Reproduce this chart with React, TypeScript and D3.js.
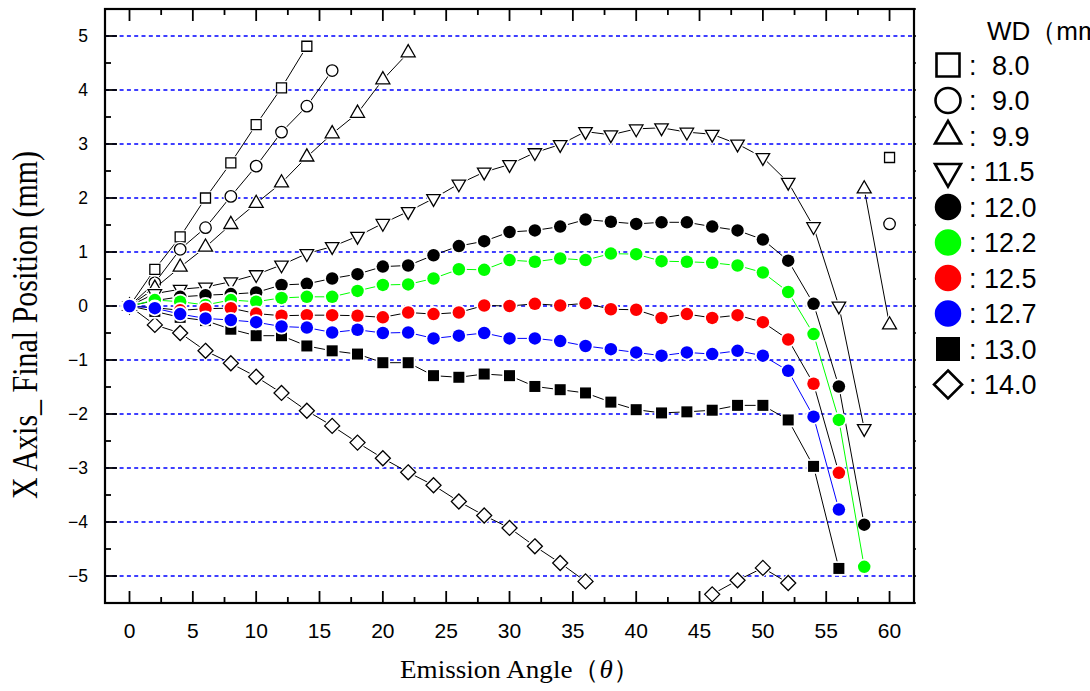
import React from 'react';
import * as d3 from 'd3';

// ---------- data ----------
const angles = [0, 2, 4, 6, 8, 10, 12, 14, 16, 18, 20, 22, 24, 26, 28, 30, 32, 34, 36, 38, 40, 42, 44, 46, 48, 50, 52, 54, 56, 58, 60];
const xTickValues = [0, 5, 10, 15, 20, 25, 30, 35, 40, 45, 50, 55, 60];
const yTickValues = [-5, -4, -3, -2, -1, 0, 1, 2, 3, 4, 5];
const yTickLabels = ['\u22125', '\u22124', '\u22123', '\u22122', '\u22121', '0', '1', '2', '3', '4', '5'];

const wd080 = [0, 0.68, 1.28, 2.0, 2.65, 3.36, 4.04, 4.81, null, null, null, null, null, null, null, null, null, null, null, null, null, null, null, null, null, null, null, null, null, null, 2.75];
const wd090 = [0, 0.43, 1.05, 1.45, 2.03, 2.59, 3.22, 3.70, 4.36, null, null, null, null, null, null, null, null, null, null, null, null, null, null, null, null, null, null, null, null, null, 1.52];
const wd099 = [0, 0.33, 0.72, 1.09, 1.51, 1.90, 2.28, 2.76, 3.19, 3.57, 4.19, 4.69, null, null, null, null, null, null, null, null, null, null, null, null, null, null, null, null, null, 2.17, -0.35];
const wd115 = [0, 0.23, 0.31, 0.35, 0.45, 0.58, 0.76, 0.97, 1.10, 1.29, 1.53, 1.75, 1.99, 2.26, 2.48, 2.62, 2.84, 2.99, 3.23, 3.17, 3.28, 3.30, 3.22, 3.18, 3.00, 2.75, 2.29, 1.47, 0.0, -2.27, null];
const wd120 = [0, 0.10, 0.17, 0.20, 0.22, 0.25, 0.39, 0.41, 0.51, 0.59, 0.73, 0.75, 0.94, 1.11, 1.20, 1.37, 1.40, 1.47, 1.60, 1.56, 1.52, 1.55, 1.55, 1.47, 1.40, 1.23, 0.84, 0.04, -1.49, -4.05, null];
const wd122 = [0, 0.11, 0.08, 0.02, 0.11, 0.08, 0.15, 0.17, 0.17, 0.28, 0.39, 0.40, 0.51, 0.68, 0.67, 0.85, 0.82, 0.88, 0.85, 0.97, 0.96, 0.83, 0.82, 0.80, 0.75, 0.62, 0.26, -0.52, -2.11, -4.83, null];
const wd125 = [0, -0.03, -0.08, -0.05, -0.04, -0.14, -0.18, -0.17, -0.17, -0.18, -0.21, -0.12, -0.15, -0.12, 0.01, 0.0, 0.04, 0.01, 0.05, -0.06, -0.07, -0.22, -0.15, -0.22, -0.17, -0.30, -0.62, -1.44, -3.09, null, null];
const wd127 = [0, -0.04, -0.15, -0.23, -0.26, -0.30, -0.38, -0.40, -0.49, -0.44, -0.50, -0.49, -0.60, -0.55, -0.50, -0.60, -0.60, -0.65, -0.74, -0.80, -0.86, -0.92, -0.86, -0.89, -0.83, -0.92, -1.20, -2.05, -3.77, null, null];
const wd130 = [0, -0.10, -0.21, -0.27, -0.43, -0.55, -0.55, -0.74, -0.83, -0.89, -1.05, -1.05, -1.29, -1.32, -1.26, -1.29, -1.49, -1.55, -1.61, -1.78, -1.92, -1.98, -1.96, -1.93, -1.84, -1.84, -2.11, -2.97, -4.86, null, null];
const wd140 = [0, -0.35, -0.50, -0.83, -1.06, -1.31, -1.61, -1.94, -2.22, -2.53, -2.82, -3.08, -3.32, -3.62, -3.88, -4.11, -4.45, -4.76, -5.10, null, null, null, null, -5.34, -5.08, -4.85, -5.13, null, null, null, null];

const legendLabels = ['8.0', '9.0', '9.9', '11.5', '12.0', '12.2', '12.5', '12.7', '13.0', '14.0'];

type Shape = 'square' | 'circle' | 'triUp' | 'triDown' | 'fcircle' | 'fsquare' | 'diamond';
interface Series { values: (number | null)[]; label: string; shape: Shape; color: string; line: string; size: number; lsize: number; }

const series: Series[] = [
  { values: wd080, label: legendLabels[0], shape: 'square', color: '#000', line: '#000', size: 10, lsize: 23 },
  { values: wd090, label: legendLabels[1], shape: 'circle', color: '#000', line: '#000', size: 11.5, lsize: 25 },
  { values: wd099, label: legendLabels[2], shape: 'triUp', color: '#000', line: '#000', size: 14, lsize: 26 },
  { values: wd115, label: legendLabels[3], shape: 'triDown', color: '#000', line: '#000', size: 13.5, lsize: 26 },
  { values: wd120, label: legendLabels[4], shape: 'fcircle', color: '#000000', line: '#000', size: 12.5, lsize: 26.5 },
  { values: wd122, label: legendLabels[5], shape: 'fcircle', color: '#00ff00', line: '#00ff00', size: 12.5, lsize: 26.5 },
  { values: wd125, label: legendLabels[6], shape: 'fcircle', color: '#ff0000', line: '#000', size: 12.5, lsize: 26.5 },
  { values: wd127, label: legendLabels[7], shape: 'fcircle', color: '#0000ff', line: '#0000ff', size: 12.5, lsize: 26.5 },
  { values: wd130, label: legendLabels[8], shape: 'fsquare', color: '#000', line: '#000', size: 11, lsize: 24 },
  { values: wd140, label: legendLabels[9], shape: 'diamond', color: '#000', line: '#000', size: 15, lsize: 28 },
];

// draw order (blue on top)
const drawOrder = [9, 8, 0, 1, 2, 3, 4, 5, 6, 7];

// ---------- layout ----------
const W = 1090, H = 691;
const plot = { left: 105, right: 914, top: 9, bottom: 603 };

function markerPath(shape: Shape, cx: number, cy: number, s: number): string {
  switch (shape) {
    case 'square':
    case 'fsquare': {
      const h = s / 2;
      return `M${cx - h},${cy - h}H${cx + h}V${cy + h}H${cx - h}Z`;
    }
    case 'circle':
    case 'fcircle': {
      const r = s / 2;
      return `M${cx - r},${cy}A${r},${r} 0 1,0 ${cx + r},${cy}A${r},${r} 0 1,0 ${cx - r},${cy}Z`;
    }
    case 'triUp': {
      const h = s * 0.87;
      return `M${cx},${cy - (2 * h) / 3}L${cx + s / 2},${cy + h / 3}L${cx - s / 2},${cy + h / 3}Z`;
    }
    case 'triDown': {
      const h = s * 0.87;
      return `M${cx},${cy + (2 * h) / 3}L${cx + s / 2},${cy - h / 3}L${cx - s / 2},${cy - h / 3}Z`;
    }
    case 'diamond': {
      const h = s / 2;
      return `M${cx},${cy - h}L${cx + h},${cy}L${cx},${cy + h}L${cx - h},${cy}Z`;
    }
  }
  return '';
}

const isFilled = (s: Shape) => s === 'fcircle' || s === 'fsquare';

export default function App() {
  const x = d3.scaleLinear().domain([-1.934, 61.93]).range([plot.left, plot.right]);
  const y = d3.scaleLinear().domain([-5.5, 5.5]).range([plot.bottom, plot.top]);

  const line = d3
    .line<[number, number | null]>()
    .defined((d) => d[1] !== null)
    .x((d) => x(d[0]))
    .y((d) => y(d[1] as number));

  const xMinor = d3.range(0, 61, 2.5);
  const yMinor = d3.range(-5.5, 5.51, 0.5);

  const sans = "'Liberation Sans', Arial, 'Noto Sans', sans-serif";
  const serif = "'Liberation Serif', 'Times New Roman', 'DejaVu Serif', serif";

  const legendX = 948;
  const legendY0 = 65;
  const legendDy = 35.5;

  return (
    <svg
      width={W}
      height={H}
      viewBox={`0 0 ${W} ${H}`}
      style={{ position: 'absolute', left: 0, top: 0, background: '#fff', overflow: 'hidden' }}
    >
      <rect x={0} y={0} width={W} height={H} fill="#fff" />
      <defs>
        <clipPath id="plotclip">
          <rect x={plot.left} y={plot.top} width={plot.right - plot.left} height={plot.bottom - plot.top} />
        </clipPath>
      </defs>

      {/* grid */}
      {yTickValues.map((v) => (
        <line
          key={'g' + v}
          x1={plot.left}
          x2={plot.right}
          y1={y(v)}
          y2={y(v)}
          stroke="#0000ff"
          strokeWidth={1.5}
          strokeDasharray="4,3.3"
        />
      ))}

      {/* x ticks top & bottom */}
      {xMinor.map((v) => {
        const major = Math.abs(v % 5) < 1e-9;
        const len = major ? 12 : 6;
        return (
          <g key={'xt' + v}>
            <line x1={x(v)} x2={x(v)} y1={plot.bottom} y2={plot.bottom - len} stroke="#000" strokeWidth={1.8} />
            <line x1={x(v)} x2={x(v)} y1={plot.top} y2={plot.top + len} stroke="#000" strokeWidth={1.8} />
          </g>
        );
      })}
      {/* y ticks left & right */}
      {yMinor.map((v) => {
        const major = Math.abs(v - Math.round(v)) < 1e-9;
        const len = major ? 12 : 6;
        return (
          <g key={'yt' + v}>
            <line x1={plot.left} x2={plot.left + len} y1={y(v)} y2={y(v)} stroke="#000" strokeWidth={1.8} />
            <line x1={plot.right} x2={plot.right + 2} y1={y(v)} y2={y(v)} stroke="#000" strokeWidth={1.5} />
          </g>
        );
      })}

      {/* series */}
      <g clipPath="url(#plotclip)">
        {drawOrder.map((i) => {
          const s = series[i];
          const pts: [number, number | null][] = angles.map((a, k) => [a, s.values[k]]);
          return (
            <g key={'s' + i}>
              <path d={line(pts) || ''} fill="none" stroke={s.line} strokeWidth={1} />
              {pts
                .filter((p) => p[1] !== null)
                .map((p, k) => {
                  const d = markerPath(s.shape, x(p[0]), y(p[1] as number), s.size);
                  return (
                    <g key={k}>
                      <path d={d} fill="#fff" stroke="#fff" strokeWidth={3.5} />
                      <path
                        d={d}
                        fill={isFilled(s.shape) ? s.color : '#fff'}
                        stroke={isFilled(s.shape) ? 'none' : '#000'}
                        strokeWidth={1.3}
                      />
                    </g>
                  );
                })}
            </g>
          );
        })}
      </g>

      {/* frame */}
      <rect
        x={plot.left}
        y={plot.top}
        width={plot.right - plot.left}
        height={plot.bottom - plot.top}
        fill="none"
        stroke="#000"
        strokeWidth={2.2}
      />

      {/* x tick labels */}
      {xTickValues.map((v) => (
        <text key={'xl' + v} x={x(v)} y={638} textAnchor="middle" fontFamily={sans} fontSize={21} fill="#000">
          {v}
        </text>
      ))}
      {/* y tick labels */}
      {yTickValues.map((v, k) => (
        <text key={'yl' + v} x={88} y={y(v) + 6} textAnchor="end" fontFamily={sans} fontSize={17.5} fill="#000">
          {yTickLabels[k]}
        </text>
      ))}

      {/* axis titles */}
      <text
        x={520}
        y={678}
        textAnchor="middle"
        fontFamily={serif}
        fontSize={26}
        textLength={240}
        lengthAdjust="spacingAndGlyphs"
        fill="#000"
      >
        Emission Angle（<tspan fontStyle="italic">θ</tspan>）
      </text>
      <text
        transform="translate(37,325) rotate(-90)"
        textAnchor="middle"
        fontFamily={serif}
        fontSize={36}
        textLength={348}
        lengthAdjust="spacingAndGlyphs"
        fill="#000"
      >
        X Axis_ Final Position (mm)
      </text>

      {/* legend */}
      <text x={987} y={40} fontFamily={sans} fontSize={26} fill="#000">
        WD（mm）
      </text>
      {series.map((s, i) => {
        const cy = legendY0 + i * legendDy;
        const filled = isFilled(s.shape);
        const twoDigit = s.label.length > 3;
        return (
          <g key={'lg' + i}>
            <path
              d={markerPath(s.shape, legendX, cy, s.lsize)}
              fill={filled ? s.color : '#fff'}
              stroke={filled ? 'none' : '#000'}
              strokeWidth={2.6}
            />
            <text x={969} y={cy + 9.5} fontFamily={sans} fontSize={27} fill="#000">
              :
            </text>
            <text x={twoDigit ? 984 : 992} y={cy + 9.5} fontFamily={sans} fontSize={27} fill="#000">
              {s.label}
            </text>
          </g>
        );
      })}
    </svg>
  );
}
